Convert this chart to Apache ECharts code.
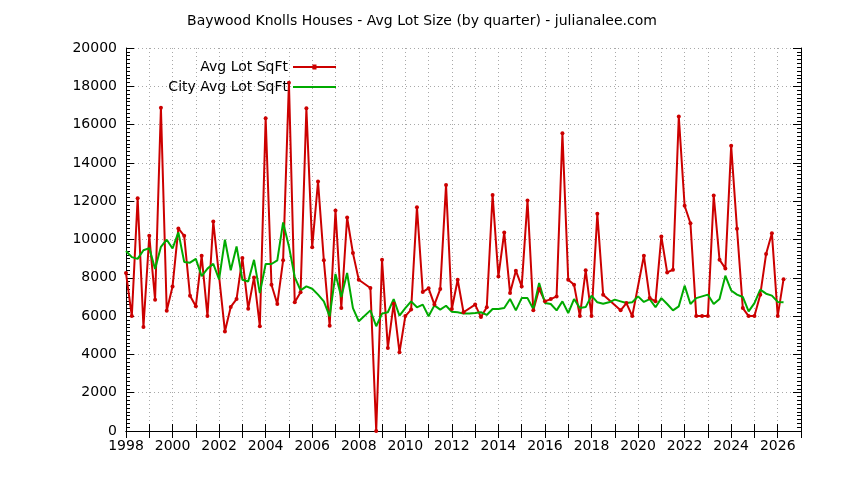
<!DOCTYPE html>
<html>
<head>
<meta charset="utf-8">
<script src="https://cdn.jsdelivr.net/npm/echarts@6/dist/echarts.min.js"></script>
<style>
html,body{margin:0;padding:0;background:#fff;}
#chart{width:844px;height:480px;}
</style>
</head>
<body>
<div id="chart"></div>
<script>
// Quarter positions (decimal years), 1998 Q1 .. 2026 Q2
const quarters = Array.from({length: 114}, (_, i) => 1998 + i / 4);

// Avg Lot SqFt (Baywood Knolls), null = no sale that quarter
const avgLot = [
  8250, 6000, 12150, 5430, 10190, 6850, 16880, 6280,
  7550, 10580, 10190, 7060, 6510, 9150, 6000, 10940,
  null, 5200, 6480, 6890, 9030, 6390, 8020, 5470,
  16330, 7640, 6630, 8910, 18190, 6720, 7240, 16850,
  9600, 13030, 8910, 5500, 11510, 6420, 11150, 9290,
  7900, null, 7470, 0, 8940, 4340, 6650, 4110,
  6000, 6340, 11690, 7260, 7450, 6600, 7410, 12850,
  6370, 7900, 6200, null, 6600, 5950, 6460, 12330,
  8070, 10370, 7200, 8370, 7550, 12040, 6300, 7410,
  6770, 6890, 7030, 15550, 7900, 7640, 6000, 8390,
  6000, 11340, 7120, null, null, 6300, 6680, 6000,
  null, 9150, 6940, 6770, 10160, 8280, 8420, 16420,
  11760, 10850, 6000, 6000, 6000, 12300, 8940, 8490,
  14890, 10560, 6420, 6000, 6000, 7120, 9240, 10330,
  6000, 7930
];

// City Avg Lot SqFt
const cityAvgLot = [
  9400, 9080, 8990, 9440, 9550, 8460, 9620, 9990,
  9530, 10370, 8830, 8790, 8990, 8080, 8480, 8730,
  7920, 9990, 8390, 9640, 7900, 7810, 8940, 7200,
  8720, 8720, 8910, 10890, 9640, 8040, 7340, 7550,
  7430, 7120, 6770, 5990, 8200, 7000, 8250, 6420,
  5730, null, 6300, 5470, 6130, 6200, 6890, 6020,
  6420, 6770, 6460, 6600, 5990, 6560, 6340, 6540,
  6230, 6200, 6130, 6130, 6160, 6200, 6060, 6370,
  6370, 6420, 6890, 6300, 6940, 6940, 6370, 7730,
  6680, 6630, 6300, 6770, 6160, 6890, 6420, 6470,
  7070, 6720, 6650, 6720, 6860, 6770, 6680, 6720,
  7030, 6740, 6890, 6460, 6940, 6630, 6300, 6510,
  7590, 6630, 6940, 7030, 7120, 6630, 6890, 8110,
  7340, 7120, 7000, 6250, 6680, 7380, 7170, 7070,
  6740, 6720
];

const seriesNames = ['Avg Lot SqFt', 'City Avg Lot SqFt'];
const titleText = 'Baywood Knolls Houses - Avg Lot Size (by quarter) - julianalee.com';

const FONT = 'DejaVu Sans';
const FS = 14;
const pairs = vals => quarters.map((t, i) => [t, vals[i]]).filter(d => d[1] !== null);

const gridLine = {show: true, lineStyle: {color: '#a8a8a8', width: 1, type: [1, 3]}};
const blackLine = {show: true, lineStyle: {color: '#000', width: 1}};

const RED = '#cc0000', GREEN = '#00aa00';
const redIcon = 'path://M0,1.5L43,1.5L43,3.5L0,3.5Z M19.5,0L23.5,0L23.5,5L19.5,5Z';
const greenIcon = 'path://M0,0L43,0L43,2L0,2Z';

const chart = echarts.init(document.getElementById('chart'), null, {renderer: 'canvas'});
chart.setOption({
  animation: false,
  backgroundColor: '#fff',
  title: {
    text: titleText, left: 'center', top: 9,
    textStyle: {fontFamily: FONT, fontSize: FS, fontWeight: 'normal', color: '#000'}
  },
  legend: [
    {data: [{name: seriesNames[0], icon: redIcon}], right: 508, top: 60, padding: 0, align: 'right',
     itemWidth: 43, itemHeight: 5, itemStyle: {color: RED},
     textStyle: {fontFamily: FONT, fontSize: FS, color: '#000'}},
    {data: [{name: seriesNames[1], icon: greenIcon}], right: 508, top: 80, padding: 0, align: 'right',
     itemWidth: 43, itemHeight: 2, itemStyle: {color: GREEN},
     textStyle: {fontFamily: FONT, fontSize: FS, color: '#000'}}
  ],
  grid: {left: 126, right: 43, top: 48, bottom: 49, containLabel: false},
  xAxis: [
    {type: 'value', position: 'bottom', min: 1998, max: 2027, interval: 1,
     axisLine: blackLine, axisTick: {show: true, inside: true, length: 7, lineStyle: {color: '#000'}},
     axisLabel: {show: true, margin: 8, color: '#000', fontFamily: FONT, fontSize: FS,
       formatter: v => (v % 2 === 0 && v < 2027) ? String(v) : ''},
     splitLine: gridLine},
    {type: 'value', position: 'top', min: 1998, max: 2027, interval: 1,
     axisLine: blackLine, axisTick: {show: true, inside: true, length: 7, lineStyle: {color: '#000'}},
     axisLabel: {show: false}, splitLine: {show: false}}
  ],
  yAxis: [
    {type: 'value', position: 'left', min: 0, max: 20000, interval: 2000,
     axisLine: blackLine,
     axisTick: {show: true, inside: true, length: 8, lineStyle: {color: '#000'}},
     minorTick: {show: true, splitNumber: 10, length: 4, lineStyle: {color: '#000'}},
     axisLabel: {show: true, margin: 9, color: '#000', fontFamily: FONT, fontSize: FS,
       formatter: v => String(v)},
     splitLine: gridLine},
    {type: 'value', position: 'right', min: 0, max: 20000, interval: 2000,
     axisLine: blackLine,
     axisTick: {show: true, inside: true, length: 8, lineStyle: {color: '#000'}},
     minorTick: {show: true, splitNumber: 10, length: 4, lineStyle: {color: '#000'}},
     axisLabel: {show: false}, splitLine: {show: false}}
  ],
  series: [
    {name: seriesNames[0], type: 'line', xAxisIndex: 0, yAxisIndex: 0,
     data: pairs(avgLot), symbol: 'circle', symbolSize: 4, showSymbol: true,
     lineStyle: {color: RED, width: 2}, itemStyle: {color: RED}},
    {name: seriesNames[1], type: 'line', xAxisIndex: 0, yAxisIndex: 0,
     data: pairs(cityAvgLot), symbol: 'none', showSymbol: false,
     lineStyle: {color: GREEN, width: 2}, itemStyle: {color: GREEN}}
  ]
});
</script>
</body>
</html>
